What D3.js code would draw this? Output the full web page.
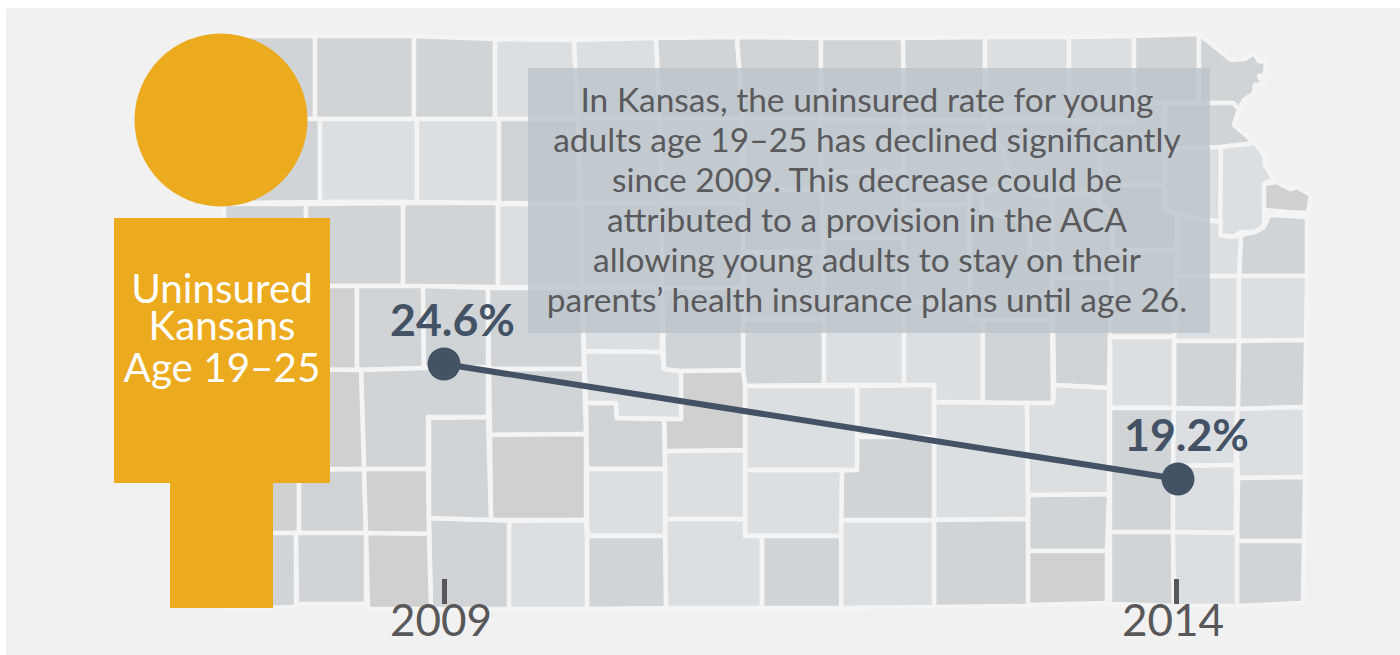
<!DOCTYPE html>
<html>
<head>
<meta charset="utf-8">
<title>Uninsured Kansans Age 19–25</title>
<script src="https://d3js.org/d3.v7.min.js"></script>
<style>
body { margin: 0; background: #fff; overflow: hidden; }
text { font-family: Lato, sans-serif; }
.county { stroke: #f4f4f4; stroke-width: 4.5px; stroke-linejoin: round; }
.axis path { display: none; }
.axis line { stroke: #58585a; stroke-width: 5px; }
.axis text { font-size: 44px; fill: #58585a; }
</style>
</head>
<body>
<svg width="1400" height="655"></svg>
<script>
// the two survey years and the uninsured rate
const years = [2009, 2014];
const rates = [24.6, 19.2];
const personLabel = ['Uninsured', 'Kansans', 'Age 19–25'];
const note = [
  'In Kansas, the uninsured rate for young',
  'adults age 19–25 has declined significantly',
  'since 2009. This decrease could be',
  'attributed to a provision in the ACA',
  'allowing young adults to stay on their',
  'parents’ health insurance plans until age 26.'
];

// county outlines, in map units
const countyRings = [
  [[224,36],[315,36],[315,119],[224,119]],
  [[315,36],[414,36],[414,119],[315,119]],
  [[414,36],[495,39],[495,119],[414,119]],
  [[495,39],[574,40],[578,119],[495,119]],
  [[574,40],[656,38],[660,119],[578,119]],
  [[656,38],[737,37],[743,119],[660,119]],
  [[737,37],[821,38],[821,119],[743,119]],
  [[821,38],[903,38],[904,120],[821,119]],
  [[903,38],[985,37],[985,120],[904,120]],
  [[985,37],[1069,37],[1069,120],[985,120]],
  [[1069,37],[1134,36],[1134,121],[1069,120]],
  [[1134,36],[1199,34],[1199,103],[1134,103]],
  [[1199,34],[1231,60],[1245,59],[1254,53],[1259,61],[1266,62],[1265,75],[1259,76],[1264,84],[1255,85],[1254,93],[1244,100],[1239,109],[1233,103],[1199,103]],
  [[224,119],[320,119],[320,202],[224,203]],
  [[320,119],[417,119],[417,202],[320,202]],
  [[417,119],[499,119],[499,203],[417,202]],
  [[499,119],[578,119],[580,204],[499,203]],
  [[578,119],[660,119],[662,203],[580,204]],
  [[660,119],[743,119],[743,204],[662,203]],
  [[743,119],[821,119],[821,172],[823,190],[743,190]],
  [[743,190],[823,190],[823,252],[743,252]],
  [[743,252],[823,252],[824,320],[743,320]],
  [[743,320],[824,320],[824,385],[745,386],[743,370]],
  [[821,119],[904,120],[904,172],[821,172]],
  [[821,172],[904,172],[904,238],[823,238]],
  [[823,238],[904,238],[904,303],[824,303]],
  [[824,303],[904,303],[904,385],[824,385]],
  [[904,120],[985,120],[1003,150],[1012,185],[982,193],[970,190],[968,205],[904,205]],
  [[985,120],[1069,120],[1100,121],[1100,203],[1087,193],[1060,193],[1040,197],[1012,185],[1003,150]],
  [[904,205],[968,205],[970,303],[904,303]],
  [[904,303],[970,303],[972,320],[983,320],[983,403],[934,402],[934,385],[904,385]],
  [[970,190],[982,193],[982,210],[1030,224],[1030,254],[1052,254],[1052,320],[972,320],[970,303]],
  [[982,193],[1012,185],[1040,197],[1052,197],[1052,254],[1030,254],[1030,224],[982,210]],
  [[983,320],[1052,320],[1053,403],[983,403]],
  [[1052,197],[1060,193],[1087,193],[1100,203],[1113,215],[1113,278],[1052,278]],
  [[1052,278],[1113,278],[1110,337],[1109,388],[1054,385],[1053,320]],
  [[1113,250],[1177,250],[1174,337],[1110,337]],
  [[1100,121],[1134,121],[1134,103],[1165,103],[1165,185],[1100,185]],
  [[1100,185],[1165,185],[1165,210],[1177,215],[1177,250],[1113,250],[1113,215],[1100,203]],
  [[1165,103],[1233,103],[1239,109],[1234,125],[1255,143],[1221,147],[1165,149]],
  [[1165,149],[1221,147],[1221,222],[1208,220],[1177,215],[1165,210]],
  [[1221,147],[1255,143],[1265,157],[1265,165],[1274,180],[1265,183],[1264,225],[1255,232],[1242,232],[1232,237],[1220,235]],
  [[1264,184],[1277,182],[1290,189],[1297,187],[1311,195],[1308,213],[1287,212],[1264,210]],
  [[1241,235],[1255,232],[1264,227],[1269,215],[1307,217],[1307,276],[1239,276]],
  [[1177,215],[1208,220],[1221,222],[1220,235],[1232,237],[1241,235],[1239,276],[1177,276]],
  [[1177,276],[1239,276],[1239,341],[1174,341],[1174,337]],
  [[1239,276],[1307,276],[1306,340],[1239,341]],
  [[1174,341],[1239,341],[1238,409],[1174,408]],
  [[1239,341],[1306,340],[1305,407],[1238,409]],
  [[1110,337],[1174,337],[1174,408],[1110,408]],
  [[1110,408],[1174,408],[1173,532],[1110,532]],
  [[1174,408],[1238,409],[1236,430],[1236,465],[1173,466]],
  [[1173,466],[1236,465],[1236,533],[1173,532]],
  [[1238,409],[1305,407],[1305,477],[1238,478],[1236,430]],
  [[1238,478],[1305,477],[1304,541],[1237,541]],
  [[1237,541],[1304,541],[1303,603],[1237,606]],
  [[1110,532],[1173,532],[1174,606],[1110,604]],
  [[1173,532],[1237,533],[1237,606],[1174,606]],
  [[1028,495],[1109,494],[1107,551],[1028,551]],
  [[1028,551],[1107,551],[1107,603],[1028,605]],
  [[934,402],[1027,403],[1028,495],[1028,519],[934,520]],
  [[1027,403],[1053,403],[1054,385],[1109,388],[1109,494],[1028,495]],
  [[934,520],[1028,519],[1028,606],[934,607]],
  [[841,520],[934,520],[934,607],[841,608]],
  [[857,386],[934,385],[934,437],[857,437]],
  [[857,437],[934,437],[934,520],[841,520],[842,470],[857,470]],
  [[745,386],[857,386],[857,470],[745,470]],
  [[745,470],[842,470],[841,536],[745,536]],
  [[762,536],[841,536],[841,608],[762,608]],
  [[665,519],[745,519],[745,536],[762,536],[762,608],[666,608]],
  [[665,451],[745,450],[745,519],[665,519]],
  [[681,371],[743,370],[745,386],[745,450],[665,451],[664,419],[681,419]],
  [[586,403],[616,403],[617,418],[664,419],[665,469],[587,469]],
  [[587,469],[665,469],[665,536],[589,536],[587,526]],
  [[587,536],[665,536],[666,608],[587,609]],
  [[584,351],[662,352],[664,369],[681,371],[681,419],[617,418],[616,403],[586,403]],
  [[582,203],[662,203],[662,288],[582,288]],
  [[662,203],[743,204],[743,288],[662,288]],
  [[582,288],[662,288],[662,352],[584,351]],
  [[662,288],[743,288],[743,370],[681,371],[664,369]],
  [[224,204],[306,204],[306,286],[224,286]],
  [[306,204],[403,203],[403,286],[306,286]],
  [[403,203],[498,203],[498,287],[403,286]],
  [[498,204],[582,204],[582,288],[498,287]],
  [[224,286],[357,286],[357,370],[224,369]],
  [[357,286],[423,286],[424,368],[357,370]],
  [[423,286],[488,288],[488,367],[424,368]],
  [[488,288],[582,288],[584,369],[489,369]],
  [[489,369],[584,369],[586,434],[490,435]],
  [[490,435],[586,434],[586,520],[491,520]],
  [[509,521],[586,520],[587,536],[587,609],[509,609]],
  [[429,518],[491,520],[509,521],[509,609],[431,609]],
  [[429,418],[488,417],[491,520],[429,518]],
  [[361,370],[424,368],[488,367],[488,417],[428,417],[428,469],[364,469]],
  [[224,369],[361,370],[364,469],[224,469]],
  [[224,469],[299,470],[299,533],[224,533]],
  [[299,470],[364,469],[366,533],[299,533]],
  [[364,469],[428,469],[429,534],[366,533]],
  [[224,533],[296,533],[296,607],[224,609]],
  [[296,533],[366,533],[366,604],[297,604]],
  [[366,533],[429,534],[431,609],[368,609]]
];
// shade per county, same order as countyRings: 0 light, 1 mid, 2 dark
const countyShade = [
  1,1,1,0,0,1,1,1,1,0,0,1,1,
  1,0,0,1,0,0,0,1,0,1,
  0,0,1,0,0,0,0,0,1,0,1,0,1,0,0,1,1,0,0,2,1,0,0,0,1,1,0,1,0,0,0,1,1,1,0,
  1,2,0,0,1,0,0,1,0,0,1,0,0,2,1,0,1,0,0,1,0,1,
  1,1,1,0,2,1,1,1,1,2,0,1,1,1,2,2,1,2,1,1,2
];

const svg = d3.select('svg');

svg.append('rect')
    .attr('x', 7)
    .attr('y', 9)
    .attr('width', 1392)
    .attr('height', 660)
    .attr('fill', '#f1f1f1')
    .attr('stroke', '#e9e9e9');

// map background
const pathGenerator = d3.geoPath();
const shadeColor = d3.scaleOrdinal().domain([0, 1, 2]).range(['#dcdfe2', '#d1d4d7', '#cfd0cf']);

svg.append('g').selectAll('path')
  .data(countyRings.map((ring, i) => ({
    type: 'Feature',
    properties: {shade: countyShade[i]},
    geometry: {type: 'Polygon', coordinates: [ring.concat([ring[0]])]}
  })))
  .enter().append('path')
    .attr('class', 'county')
    .attr('d', pathGenerator)
    .attr('fill', d => shadeColor(d.properties.shade));

// note box
svg.append('rect')
    .attr('x', 528)
    .attr('y', 68)
    .attr('width', 682)
    .attr('height', 265)
    .attr('fill', '#bcc4ca')
    .attr('opacity', 0.8);

svg.append('g').selectAll('text')
  .data(note)
  .enter().append('text')
    .attr('x', 867)
    .attr('y', (d, i) => 112 + i * 39.9)
    .attr('text-anchor', 'middle')
    .attr('font-size', 33.5)
    .attr('fill', '#5a5a5d')
    .text(d => d);

// person figure
const orange = '#ecaa1e';
svg.append('circle').attr('cx', 221).attr('cy', 120).attr('r', 86.5).attr('fill', orange);
svg.append('rect').attr('x', 114).attr('y', 218).attr('width', 216).attr('height', 265).attr('fill', orange);
svg.append('rect').attr('x', 170).attr('y', 483).attr('width', 103).attr('height', 125).attr('fill', orange);

// the lines in the figure are not evenly spaced
const personLabelY = d3.scaleOrdinal().domain(personLabel).range([303, 340, 382]);
svg.append('g').selectAll('text')
  .data(personLabel)
  .enter().append('text')
    .attr('x', 222)
    .attr('y', d => personLabelY(d))
    .attr('text-anchor', 'middle')
    .attr('font-size', 40.4)
    .attr('fill', '#fff')
    .text(d => d);

// the chart itself
const xScale = d3.scaleLinear().domain(d3.extent(years)).range([444, 1178]);
const yScale = d3.scaleLinear().domain([19.2, 24.6]).range([479, 364]);
const points = years.map((year, i) => ({year, rate: rates[i]}));

const xAxis = d3.axisBottom(xScale.copy().range([444, 1176]))
  .tickValues(years)
  .tickFormat(d3.format('d'))
  .tickSize(25)
  .tickPadding(1);

const axisG = svg.append('g')
    .attr('class', 'axis')
    .attr('transform', 'translate(0,579)')
    .call(xAxis);
axisG.selectAll('text').attr('dx', -3.5);

const lineGenerator = d3.line().x(d => xScale(d.year)).y(d => yScale(d.rate));
svg.append('path')
    .attr('d', lineGenerator(points))
    .attr('fill', 'none')
    .attr('stroke', '#445265')
    .attr('stroke-width', 6);

svg.selectAll('.dot')
  .data(points)
  .enter().append('circle')
    .attr('class', 'dot')
    .attr('cx', d => xScale(d.year))
    .attr('cy', d => yScale(d.rate))
    .attr('r', 16.5)
    .attr('fill', '#445265');

svg.selectAll('.rate')
  .data(points)
  .enter().append('text')
    .attr('class', 'rate')
    .attr('x', d => xScale(d.year) + 8.5)
    .attr('y', d => yScale(d.rate) - 28)
    .attr('text-anchor', 'middle')
    .attr('font-size', 44.7)
    .attr('font-weight', 700)
    .attr('fill', '#445265')
    .text(d => d.rate + '%');
</script>
</body>
</html>
